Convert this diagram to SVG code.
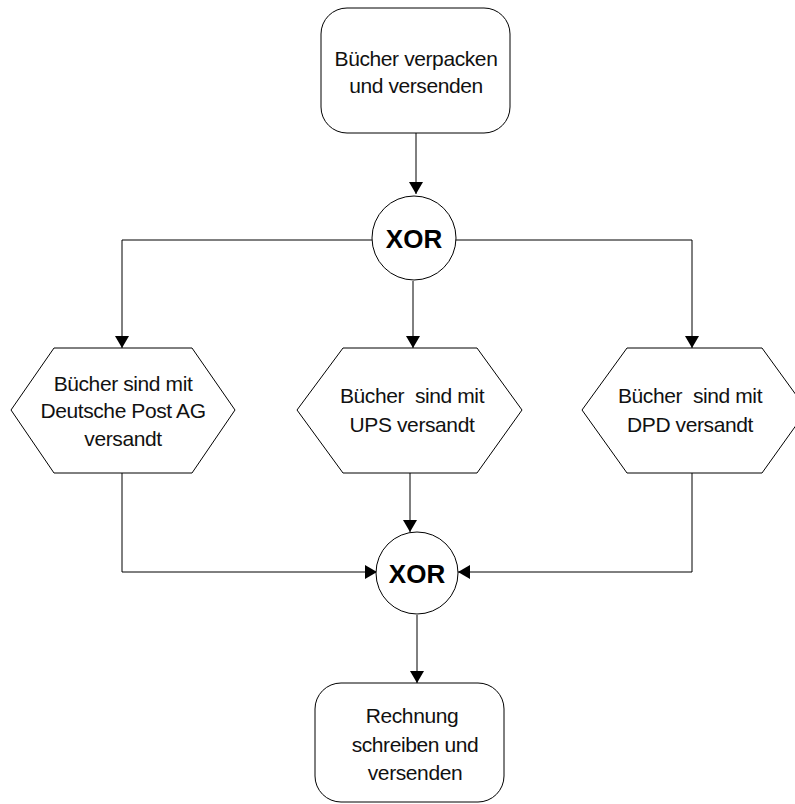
<svg xmlns="http://www.w3.org/2000/svg" width="795" height="804" viewBox="0 0 795 804">
<defs>
<marker id="arr" markerWidth="12" markerHeight="14" refX="12" refY="7" orient="auto" markerUnits="userSpaceOnUse">
<path d="M0,0 L12,7 L0,14 Z" fill="#000"/>
</marker>
<style>
.box{fill:#fff;stroke:#000;stroke-width:1}
.t{font-family:"Liberation Sans",Arial,sans-serif;font-size:21px;letter-spacing:-0.4px;fill:#111;text-anchor:middle;white-space:pre}
.x{font-family:"Liberation Sans",Arial,sans-serif;font-size:26px;font-weight:bold;fill:#000;text-anchor:middle}
.c{fill:none;stroke:#000;stroke-width:1}
</style>
</defs>
<rect width="795" height="804" fill="#fff"/>
<g id="connectors">
<path class="c" d="M416,133 V194" marker-end="url(#arr)"/>
<path class="c" d="M372,240 H122 V348" marker-end="url(#arr)"/>
<path class="c" d="M413,281 V348" marker-end="url(#arr)"/>
<path class="c" d="M455,240 H692 V348" marker-end="url(#arr)"/>
<path class="c" d="M122,473 V572 H377" marker-end="url(#arr)"/>
<path class="c" d="M410,473 V532" marker-end="url(#arr)"/>
<path class="c" d="M692,473 V572 H458" marker-end="url(#arr)"/>
<path class="c" d="M417,615 V683" marker-end="url(#arr)"/>
</g>
<g id="n1">
<rect class="box" x="321" y="8" width="189" height="125" rx="26"/>
<text class="t" x="416" y="66">Bücher verpacken</text>
<text class="t" x="416" y="93">und versenden</text>
</g>
<g id="xor1">
<circle class="box" cx="414" cy="238" r="42"/>
<text class="x" x="414" y="248">XOR</text>
</g>
<g id="e1">
<polygon class="box" points="11,410 54,348 192,348 235,410 192,473 54,473"/>
<text class="t" x="123" y="391">Bücher sind mit</text>
<text class="t" x="123" y="418">Deutsche Post AG</text>
<text class="t" x="123" y="446">versandt</text>
</g>
<g id="e2">
<polygon class="box" points="297,410 343,348 477,348 522,410 477,473 343,473"/>
<text class="t" x="412" y="403">Bücher  sind mit</text>
<text class="t" x="412" y="432">UPS versandt</text>
</g>
<g id="e3">
<polygon class="box" points="582,410 627,348 762,348 807,410 762,473 627,473"/>
<text class="t" x="690" y="403">Bücher  sind mit</text>
<text class="t" x="690" y="432">DPD versandt</text>
</g>
<g id="xor2">
<circle class="box" cx="417" cy="573" r="41"/>
<text class="x" x="417" y="583">XOR</text>
</g>
<g id="n2">
<rect class="box" x="315" y="683" width="189" height="119" rx="26"/>
<text class="t" x="412" y="723">Rechnung</text>
<text class="t" x="415" y="752">schreiben und</text>
<text class="t" x="415" y="780">versenden</text>
</g>
</svg>
